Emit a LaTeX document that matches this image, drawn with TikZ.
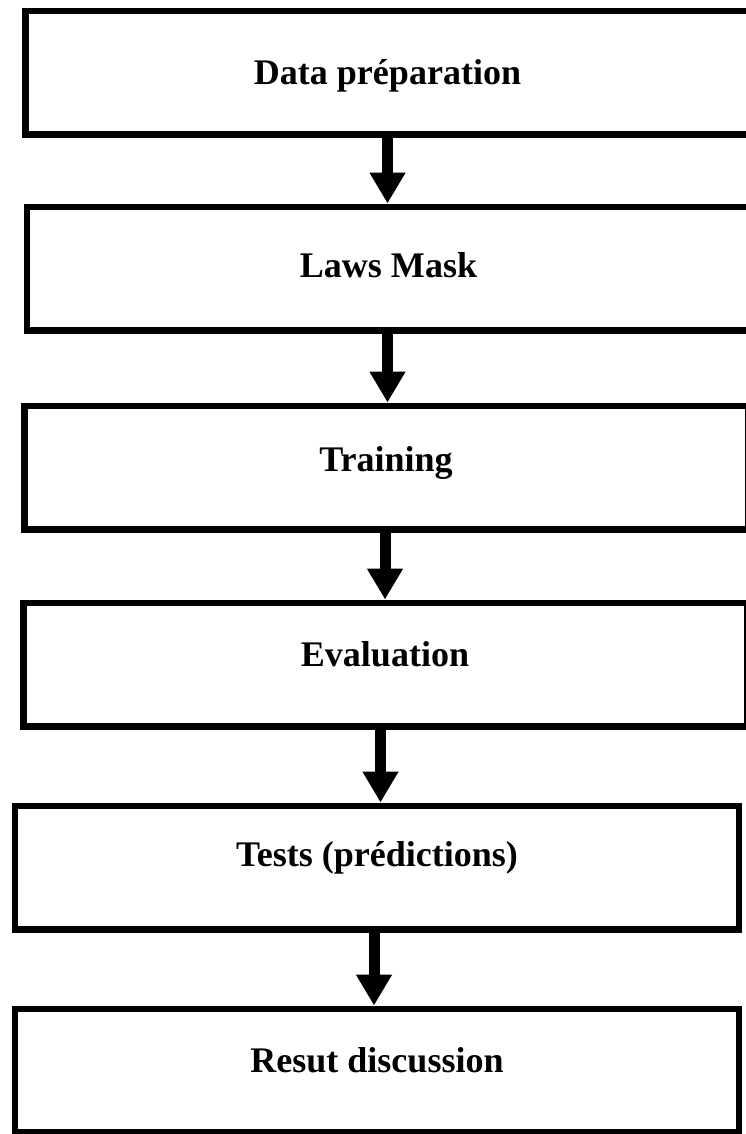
\documentclass[tikz,border=0pt]{standalone}
\usepackage{fontspec}
\setmainfont{Liberation Serif}
\usepackage{tikz}
\usetikzlibrary{positioning,arrows.meta}

\begin{document}
\begin{tikzpicture}[
node distance=1.4cm,
box/.style={rectangle, draw=black, line width=0.13cm, align=center, minimum width=14.47cm, minimum height=2.47cm, text height=0.46cm, font=\fontsize{20.5}{24}\selectfont\bfseries},
arrow/.style={-{Triangle[length=0.62cm, width=0.68cm]}, line width=0.22cm}
]
\useasboundingbox (0,0) rectangle (14.92,-22.68);

\node[box, text depth=0cm] (prep) at (7.75,-1.45) {Data préparation};
\node[box, text depth=0.1cm, below=1.32cm of prep, xshift=0.02cm] (laws) {Laws Mask};
\node[box, text depth=0.32cm, below=1.38cm of laws, xshift=-0.05cm] (train) {Training};
\node[box, text depth=0.4cm, below=1.34cm of train, xshift=-0.02cm] (eval) {Evaluation};
\node[box, text depth=0.52cm, below=1.46cm of eval, xshift=-0.16cm] (tests) {Tests (prédictions)};
\node[box, text depth=0.4cm, below=1.46cm of tests] (disc) {Resut discussion};

\draw[arrow] (prep.south) -- (prep.south |- laws.north);
\draw[arrow] ([xshift=-0.02cm]laws.south) -- ([xshift=-0.02cm]laws.south |- train.north);
\draw[arrow] ([xshift=-0.02cm]train.south) -- ([xshift=-0.02cm]train.south |- eval.north);
\draw[arrow] ([xshift=-0.09cm]eval.south) -- ([xshift=-0.09cm]eval.south |- tests.north);
\draw[arrow] ([xshift=-0.06cm]tests.south) -- ([xshift=-0.06cm]tests.south |- disc.north);

\end{tikzpicture}
\end{document}
